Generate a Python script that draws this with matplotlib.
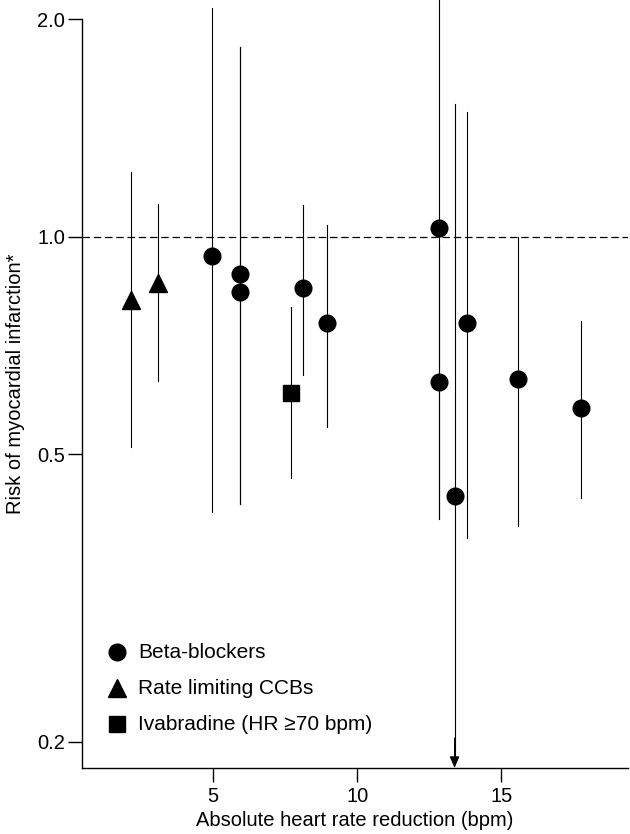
import numpy as np
import matplotlib
matplotlib.use("Agg")
import matplotlib.pyplot as plt
from matplotlib.lines import Line2D

plt.rcParams['font.family'] = ['Liberation Sans', 'DejaVu Sans']

# Beta-blockers
bb_x = [4.95, 5.95, 5.95, 8.11, 8.95, 12.85, 12.85, 13.38, 13.80, 15.57, 17.78]
bb_y = [0.942, 0.889, 0.840, 0.850, 0.759, 1.029, 0.629, 0.438, 0.760, 0.635, 0.579]
bb_lo = [0.416, 0.427, 0.427, 0.644, 0.546, 0.407, 0.407, 0.150, 0.383, 0.398, 0.435]
bb_hi = [2.075, 1.834, 1.834, 1.107, 1.040, 2.600, 0.970, 1.528, 1.489, 1.000, 0.765]

# Rate limiting CCBs
ccb_x = [2.15, 3.09]
ccb_y = [0.818, 0.864]
ccb_lo = [0.512, 0.632]
ccb_hi = [1.230, 1.111]

# Ivabradine
iva_x = [7.71]
iva_y = [0.608]
iva_lo = [0.464]
iva_hi = [0.800]

legend_labels = ["Beta-blockers", "Rate limiting CCBs", "Ivabradine (HR \u226570 bpm)"]
legend_markers = ['o', '^', 's']
xticks = [5, 10, 15]
yticks = [0.2, 0.5, 1.0, 2.0]
ytick_labels = ["0.2", "0.5", "1.0", "2.0"]

YMIN, YMAX = 0.184, 2.128
XMIN, XMAX = 0.45, 19.4
W, H = 630, 834

fig = plt.figure(figsize=(6.3, 8.34), dpi=100)
ax = fig.add_axes([82/W, 1 - 768/H, (628-82)/W, 768/H])
ax.set_yscale('log')
ax.set_xlim(XMIN, XMAX)
ax.set_ylim(YMIN, YMAX)

# reference line
ax.axhline(1.0, color='black', lw=0.9, linestyle=(0, (6, 3)), zorder=1)

def draw(xs, ys, lo, hi, marker, ms):
    for x, y, l, h in zip(xs, ys, lo, hi):
        ax.plot([x, x], [max(l, YMIN * 1.03), h], color='black', lw=0.8, zorder=2,
                clip_on=True)
        if l < YMIN:
            ax.annotate('', xy=(x, YMIN), xytext=(x, YMIN * 1.10),
                        arrowprops=dict(arrowstyle='-|>,head_length=0.7,head_width=0.3',
                                        color='black', lw=0.8,
                                        mutation_scale=10, shrinkA=0, shrinkB=0),
                        zorder=3)
    ax.plot(xs, ys, linestyle='none', marker=marker, color='black', ms=ms,
            zorder=4, clip_on=False)

draw(bb_x, bb_y, bb_lo, bb_hi, 'o', 12)
draw(ccb_x, ccb_y, ccb_lo, ccb_hi, '^', 13)
draw(iva_x, iva_y, iva_lo, iva_hi, 's', 12)

# legend drawn in figure pixel coordinates
leg_rows = [652, 688, 724]
leg_ms = [12, 13, 12]
for yy, lab, mk, ms in zip(leg_rows, legend_labels, legend_markers, leg_ms):
    fig.add_artist(Line2D([117/W], [1 - yy/H], marker=mk, ms=ms, color='black',
                          linestyle='none', transform=fig.transFigure))
    fig.text(138/W, 1 - yy/H, lab, fontsize=15, va='center', ha='left')

for s in ['top', 'right']:
    ax.spines[s].set_visible(False)
ax.spines['left'].set_bounds(YMIN, 2.0)
ax.spines['left'].set_linewidth(1.0)
ax.spines['bottom'].set_linewidth(1.0)

ax.set_yticks(yticks)
ax.set_yticklabels(ytick_labels)
ax.yaxis.set_minor_locator(matplotlib.ticker.NullLocator())
ax.set_xticks(xticks)
ax.tick_params(axis='both', direction='out', length=10, width=1.0,
               labelsize=14.5, color='black')
ax.tick_params(axis='y', pad=2)
ax.tick_params(axis='x', pad=4)

ax.set_xlabel('Absolute heart rate reduction (bpm)', fontsize=14.5, labelpad=3)
ax.set_ylabel('Risk of myocardial infarction*', fontsize=14.5, labelpad=9)

fig.savefig('out.png', dpi=100)
